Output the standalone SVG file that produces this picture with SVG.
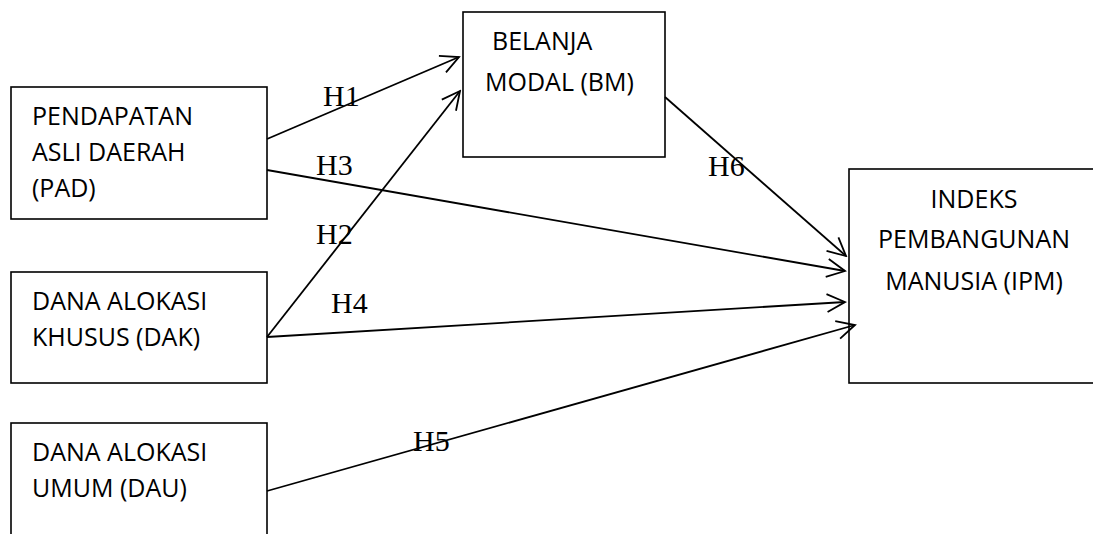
<svg xmlns="http://www.w3.org/2000/svg" width="1093" height="534" viewBox="0 0 1093 534">
<style>
.box{fill:#fff;stroke:#000;stroke-width:1.6}
.t{font-family:"Open Sans","Noto Sans",sans-serif;font-size:25px;fill:#000}
.h{font-family:"Liberation Serif","Times New Roman",serif;font-size:30px;fill:#000}
.c{stroke:#000;stroke-width:1.8;fill:none;marker-end:url(#arr)}
</style>
<defs>
<marker id="arr" markerUnits="userSpaceOnUse" viewBox="-20 -11 22 22" refX="0" refY="0" markerWidth="22" markerHeight="22" orient="auto">
<path d="M-18,-9 L0,0 L-18,9" fill="none" stroke="#000" stroke-width="1.8"/>
</marker>
</defs>
<rect width="1093" height="534" fill="#fff"/>
<g id="node-pad">
<rect class="box" x="11" y="87" width="256" height="132"/>
<text class="t" x="32" y="125">PENDAPATAN</text>
<text class="t" x="32" y="161">ASLI DAERAH</text>
<text class="t" x="32" y="197">(PAD)</text>
</g>
<g id="node-dak">
<rect class="box" x="11" y="272" width="256" height="111"/>
<text class="t" x="32" y="310">DANA ALOKASI</text>
<text class="t" x="32" y="346">KHUSUS (DAK)</text>
</g>
<g id="node-dau">
<rect class="box" x="11" y="423" width="256" height="130"/>
<text class="t" x="32" y="461">DANA ALOKASI</text>
<text class="t" x="32" y="497">UMUM (DAU)</text>
</g>
<g id="node-bm">
<rect class="box" x="463" y="12" width="202" height="145"/>
<text class="t" x="492" y="50">BELANJA</text>
<text class="t" x="485" y="91">MODAL (BM)</text>
</g>
<g id="node-ipm">
<rect class="box" x="849" y="169" width="260" height="214"/>
<text class="t" x="974" y="208" text-anchor="middle">INDEKS</text>
<text class="t" x="974" y="248" text-anchor="middle">PEMBANGUNAN</text>
<text class="t" x="974" y="290" text-anchor="middle">MANUSIA (IPM)</text>
</g>
<g id="connectors">
<line class="c" x1="267" y1="139" x2="459" y2="57"/>
<line class="c" x1="267" y1="337" x2="460" y2="91"/>
<line class="c" x1="267" y1="170" x2="845" y2="271"/>
<line class="c" x1="267" y1="337" x2="845" y2="302"/>
<line class="c" x1="267" y1="491" x2="855" y2="325"/>
<line class="c" x1="665" y1="97" x2="846" y2="256"/>
<text class="h" x="323" y="106">H1</text>
<text class="h" x="316" y="244">H2</text>
<text class="h" x="316" y="175">H3</text>
<text class="h" x="331" y="313">H4</text>
<text class="h" x="413" y="451">H5</text>
<text class="h" x="708" y="176">H6</text>
</g>
</svg>
